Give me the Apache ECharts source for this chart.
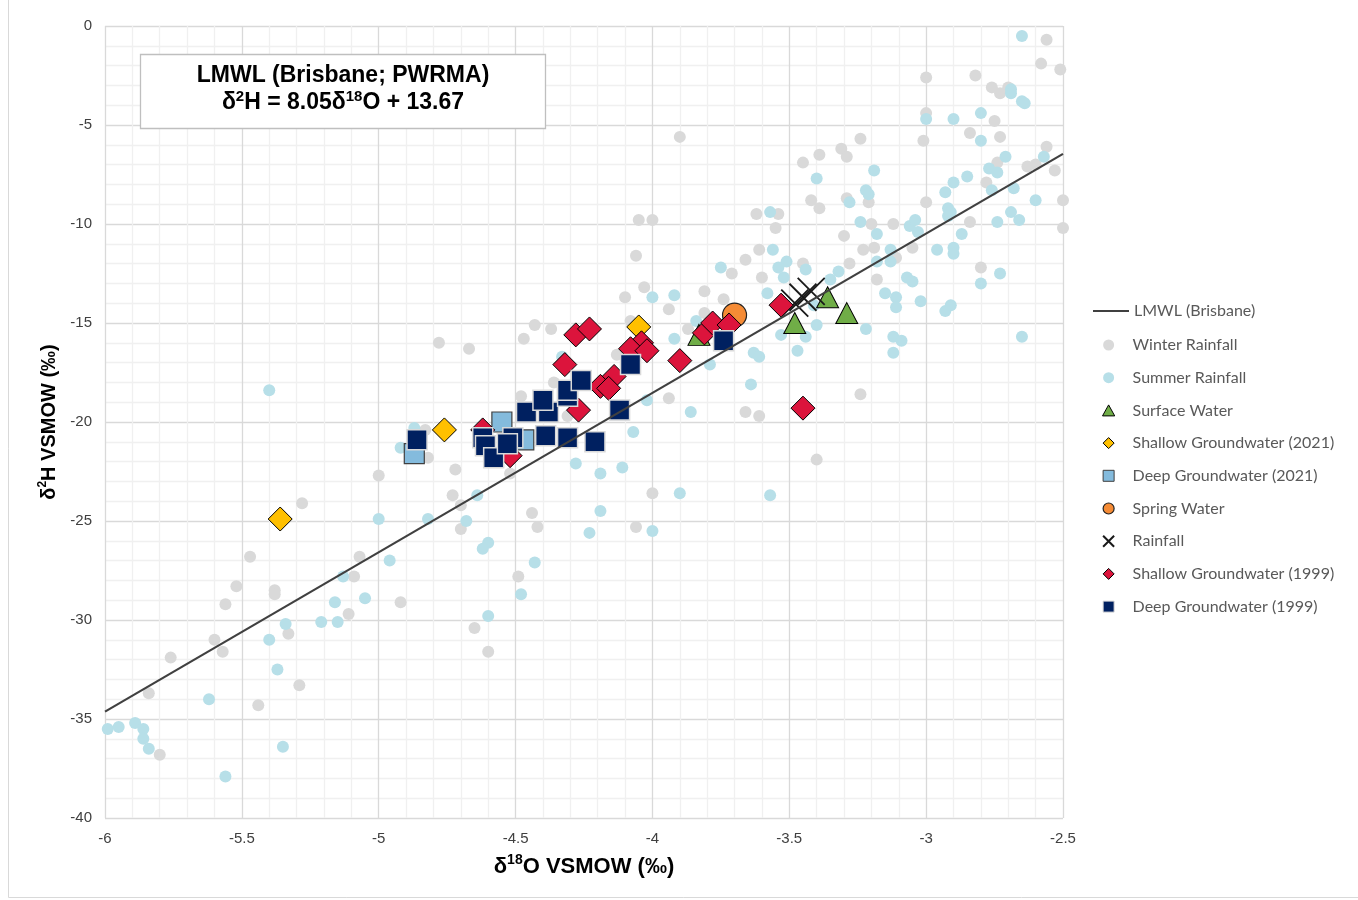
<!DOCTYPE html>
<html><head><meta charset="utf-8">
<script src="https://cdn.jsdelivr.net/npm/echarts@6/dist/echarts.min.js"></script>
<style>html,body{margin:0;padding:0;background:#fff}#c{width:1358px;height:900px}</style>
</head><body><div id="c"></div>
<script>
// ---------- DATA (δ18O, δ2H) ----------
const lmwl = [[-6, -34.63], [-2.5, -6.46]];

const winterRainfall = [
 [-2.56,-0.7],[-2.58,-1.9],[-2.51,-2.2],[-3.00,-2.6],[-2.82,-2.5],[-2.76,-3.1],[-2.73,-3.4],[-2.70,-3.1],[-3.00,-4.4],[-2.75,-4.8],
 [-2.84,-5.4],[-2.73,-5.6],[-3.01,-5.8],[-3.24,-5.7],[-2.56,-6.1],[-2.74,-6.9],[-2.63,-7.1],[-2.60,-7.0],[-2.53,-7.3],[-3.21,-8.9],
 [-3.00,-8.9],[-2.78,-7.9],[-2.50,-8.8],[-2.50,-10.2],[-3.20,-10.0],[-3.12,-10.0],[-2.84,-9.9],[-3.23,-11.3],[-3.19,-11.2],[-3.05,-11.2],
 [-3.11,-11.7],[-3.18,-12.8],[-2.80,-12.2],[-3.90,-5.6],[-3.31,-6.2],[-3.29,-6.6],[-3.39,-6.5],[-3.45,-6.9],[-3.42,-8.8],[-3.39,-9.2],
 [-3.29,-8.7],[-4.05,-9.8],[-4.00,-9.8],[-3.62,-9.5],[-3.54,-9.5],[-3.55,-10.2],[-3.30,-10.6],[-4.06,-11.6],[-3.61,-11.3],[-3.66,-11.8],
 [-3.45,-12.0],[-3.28,-12.0],[-4.03,-13.2],[-4.10,-13.7],[-3.94,-14.3],[-3.81,-13.4],[-3.74,-13.8],[-3.81,-14.5],[-3.71,-12.5],[-3.60,-12.7],
 [-3.24,-18.6],[-3.66,-19.5],[-3.61,-19.7],[-3.94,-18.8],[-3.40,-21.9],[-4.00,-23.6],[-4.06,-25.3],[-4.78,-16.0],[-4.67,-16.3],[-4.43,-15.1],
 [-4.37,-15.3],[-4.47,-15.8],[-4.36,-18.0],[-4.48,-18.7],[-4.83,-20.4],[-4.82,-21.8],[-4.72,-22.4],[-5.00,-22.7],[-4.52,-22.6],[-4.73,-23.7],
 [-4.70,-24.2],[-4.70,-25.4],[-4.44,-24.6],[-4.42,-25.3],[-4.49,-27.8],[-4.65,-30.4],[-4.60,-31.6],[-5.28,-24.1],[-5.47,-26.8],[-5.52,-28.3],
 [-5.56,-29.2],[-5.38,-28.5],[-5.38,-28.7],[-5.07,-26.8],[-5.09,-27.8],[-5.11,-29.7],[-4.92,-29.1],[-5.33,-30.7],[-5.60,-31.0],[-5.57,-31.6],
 [-5.76,-31.9],[-5.29,-33.3],[-5.84,-33.7],[-5.44,-34.3],[-5.80,-36.8],[-3.87,-15.3],[-4.08,-14.9],[-4.13,-16.6],[-4.31,-19.7]
];

const summerRainfall = [
 [-2.65,-0.5],[-2.69,-3.2],[-2.69,-3.4],[-2.65,-3.8],[-2.64,-3.9],[-3.00,-4.7],[-2.90,-4.7],[-2.80,-4.4],[-2.80,-5.8],[-2.71,-6.6],
 [-2.57,-6.6],[-2.77,-7.2],[-2.74,-7.4],[-3.19,-7.3],[-2.85,-7.6],[-3.22,-8.3],[-3.21,-8.5],[-2.90,-7.9],[-2.93,-8.4],[-2.76,-8.3],
 [-2.68,-8.2],[-2.60,-8.8],[-2.92,-9.2],[-2.91,-9.4],[-2.92,-9.6],[-2.69,-9.4],[-2.66,-9.8],[-2.74,-9.9],[-3.24,-9.9],[-3.06,-10.1],
 [-3.04,-9.8],[-3.03,-10.4],[-3.18,-10.5],[-2.87,-10.5],[-3.13,-11.3],[-2.96,-11.3],[-2.90,-11.2],[-2.90,-11.5],[-3.18,-11.9],[-3.13,-11.9],
 [-3.07,-12.7],[-3.05,-12.9],[-2.73,-12.5],[-2.80,-13.0],[-3.15,-13.5],[-3.11,-13.7],[-3.11,-14.2],[-3.02,-13.9],[-2.93,-14.4],[-2.91,-14.1],
 [-3.22,-15.3],[-3.12,-15.7],[-3.09,-15.9],[-2.65,-15.7],[-3.12,-16.5],[-3.40,-7.7],[-3.28,-8.9],[-3.57,-9.4],[-3.56,-11.3],[-3.51,-11.9],
 [-3.54,-12.2],[-3.44,-12.3],[-3.52,-12.7],[-3.35,-12.8],[-3.32,-12.4],[-3.75,-12.2],[-4.00,-13.7],[-3.92,-13.6],[-3.58,-13.5],[-3.40,-15.1],
 [-3.44,-15.7],[-3.53,-15.6],[-3.47,-16.4],[-3.92,-15.8],[-3.84,-14.9],[-3.79,-17.1],[-3.63,-16.5],[-3.61,-16.7],[-3.64,-18.1],[-4.02,-18.9],
 [-3.86,-19.5],[-3.41,-14.1],[-4.07,-20.5],[-4.11,-22.3],[-4.19,-22.6],[-3.90,-23.6],[-3.57,-23.7],[-4.19,-24.5],[-4.23,-25.6],[-4.00,-25.5],
 [-4.87,-20.3],[-4.92,-21.3],[-4.28,-22.1],[-4.64,-23.7],[-4.68,-25.0],[-4.82,-24.9],[-5.00,-24.9],[-4.60,-26.1],[-4.62,-26.4],[-4.43,-27.1],
 [-4.48,-28.7],[-4.60,-29.8],[-4.96,-27.0],[-5.13,-27.8],[-5.05,-28.9],[-5.16,-29.1],[-5.21,-30.1],[-5.15,-30.1],[-5.34,-30.2],[-5.40,-31.0],
 [-5.37,-32.5],[-5.62,-34.0],[-5.99,-35.5],[-5.95,-35.4],[-5.89,-35.2],[-5.86,-35.5],[-5.86,-36.0],[-5.84,-36.5],[-5.56,-37.9],[-5.35,-36.4],
 [-5.40,-18.4],[-4.33,-16.7]
];

const surfaceWater = [[-3.36,-13.7],[-3.29,-14.5],[-3.48,-15.0],[-3.83,-15.6]];
const shallowGW2021 = [[-4.05,-15.2],[-4.76,-20.4],[-5.36,-24.9]];
const deepGW2021 = [[-4.87,-21.6],[-4.55,-20.0],[-4.47,-20.9]];
const springWater = [[-3.70,-14.6]];
const rainfall = [[-3.48,-14.0],[-3.45,-13.7],[-3.42,-13.4]];
const shallowGW1999 = [
 [-4.28,-15.6],[-4.23,-15.3],[-4.32,-17.1],[-4.04,-16.0],[-4.08,-16.3],[-4.02,-16.4],[-3.90,-16.9],[-4.14,-17.7],[-4.19,-18.2],[-4.16,-18.3],
 [-4.27,-19.4],[-3.81,-15.5],[-3.78,-15.0],[-3.72,-15.1],[-3.53,-14.1],[-3.45,-19.3],[-4.62,-20.4],[-4.52,-21.7]
];
const deepGW1999 = [
 [-4.86,-20.9],[-4.62,-20.8],[-4.61,-21.2],[-4.58,-21.8],[-4.51,-20.8],[-4.53,-21.1],[-4.39,-20.7],[-4.31,-20.8],[-4.46,-19.5],[-4.38,-19.5],
 [-4.40,-18.9],[-4.31,-18.7],[-4.31,-18.4],[-4.26,-17.9],[-4.08,-17.1],[-4.12,-19.4],[-3.74,-15.9],[-4.21,-21.0]
];

const seriesNames = ['LMWL (Brisbane)','Winter Rainfall','Summer Rainfall','Surface Water','Shallow Groundwater (2021)',
 'Deep Groundwater (2021)','Spring Water','Rainfall','Shallow Groundwater (1999)','Deep Groundwater (1999)'];

// ---------- STYLE ----------
const AX = 'Liberation Sans, Arial, sans-serif';
const LG = 'Lato, "Open Sans", sans-serif';
const P_TRI = 'path://M5,0L10,9L0,9Z';
const P_DIA = 'path://M5,0L10,5L5,10L0,5Z';
const P_SQ = 'path://M0,0L10,0L10,10L0,10Z';
const P_X = 'path://M0,0L10,10M10,0L0,10';
function nameRich(fs) {
  return {
    b:{fontSize:fs, fontWeight:'bold', fontFamily:AX, color:'#000', lineHeight:fs+3, verticalAlign:'bottom'},
    s:{fontSize:Math.round(fs*0.62), fontWeight:'bold', fontFamily:AX, color:'#000', lineHeight:fs+3, verticalAlign:'top'}
  };
}

const chart = echarts.init(document.getElementById('c'), null, {renderer:'canvas'});
const option = {
  backgroundColor: '#fff',
  animation: false,
  grid: {left:105, right:295, top:26, bottom:82, containLabel:false},
  xAxis: {
    type:'value', min:-6, max:-2.5, interval:0.5,
    axisLine:{show:false}, axisTick:{show:false},
    axisLabel:{color:'#404040', fontSize:15, fontFamily:AX, margin:13},
    splitLine:{show:true, lineStyle:{color:'#d9d9d9', width:1.3}},
    minorTick:{show:false, splitNumber:5},
    minorSplitLine:{show:true, lineStyle:{color:'#f0f0f0', width:1.3}},
    name:'{b|δ}{s|18}{b|O VSMOW (‰)}', nameLocation:'middle', nameGap:35,
    nameTextStyle:{rich:nameRich(22)}
  },
  yAxis: {
    type:'value', min:-40, max:0, interval:5,
    axisLine:{show:false}, axisTick:{show:false},
    axisLabel:{color:'#404040', fontSize:15, fontFamily:AX, margin:13},
    splitLine:{show:true, lineStyle:{color:'#d9d9d9', width:1.3}},
    minorTick:{show:false, splitNumber:5},
    minorSplitLine:{show:true, lineStyle:{color:'#f0f0f0', width:1.3}},
    name:'{b|δ}{s|2}{b|H VSMOW (‰)}', nameLocation:'middle', nameGap:45,
    nameTextStyle:{rich:nameRich(20)}
  },
  legend: [
    {
      orient:'vertical', left:1092, top:303, padding:0, itemWidth:36, itemHeight:11,
      textStyle:{color:'#595959', fontSize:16, fontFamily:LG, lineHeight:16},
      data:[{name:seriesNames[0], itemStyle:{color:'rgba(0,0,0,0)', borderWidth:0, opacity:0}}], selectedMode:false
    },
    {
      orient:'vertical', left:1102, top:337, padding:0, itemWidth:38, itemHeight:11, itemGap:16.7,
      textStyle:{color:'#595959', fontSize:16, fontFamily:LG, lineHeight:16},
      selectedMode:false,
      data:[
        {name:seriesNames[1], icon:'circle'},
        {name:seriesNames[2], icon:'circle'},
        {name:seriesNames[3], icon:P_TRI, itemStyle:{borderWidth:1}},
        {name:seriesNames[4], icon:P_DIA, itemStyle:{borderWidth:1}},
        {name:seriesNames[5], icon:P_SQ, itemStyle:{borderWidth:1}},
        {name:seriesNames[6], icon:'circle', itemStyle:{borderWidth:1.2}},
        {name:seriesNames[7], icon:P_X, itemStyle:{borderWidth:2}},
        {name:seriesNames[8], icon:P_DIA, itemStyle:{borderWidth:1}},
        {name:seriesNames[9], icon:P_SQ, itemStyle:{borderWidth:1}}
      ]
    }
  ],
  series: [
    {name:seriesNames[0], type:'line', data:lmwl, symbol:'none', silent:true,
     lineStyle:{color:'#404040', width:2.2}, itemStyle:{color:'#404040'}},
    {name:seriesNames[1], type:'scatter', data:winterRainfall, symbol:'circle', symbolSize:12,
     itemStyle:{color:'#d9d9d9', opacity:1}},
    {name:seriesNames[2], type:'scatter', data:summerRainfall, symbol:'circle', symbolSize:12,
     itemStyle:{color:'#b7dfe8', opacity:1}},
    {name:seriesNames[3], type:'scatter', data:surfaceWater, symbol:'triangle', symbolSize:[22,21],
     itemStyle:{color:'#70ad47', borderColor:'#000', borderWidth:1, opacity:1}},
    {name:seriesNames[4], type:'scatter', data:shallowGW2021, symbol:'diamond', symbolSize:24,
     itemStyle:{color:'#ffc000', borderColor:'#000', borderWidth:1, opacity:1}},
    {name:seriesNames[5], type:'scatter', data:deepGW2021, symbol:'rect', symbolSize:20,
     itemStyle:{color:'#84bbdd', borderColor:'#404040', borderWidth:1.2, opacity:1}},
    {name:seriesNames[6], type:'scatter', data:springWater, symbol:'circle', symbolSize:24,
     itemStyle:{color:'#f58b35', borderColor:'#222', borderWidth:1.2, opacity:1}},
    {name:seriesNames[7], type:'scatter', data:rainfall, symbol:P_X, symbolSize:27,
     itemStyle:{color:'rgba(0,0,0,0)', borderColor:'#1a1a1a', borderWidth:1.8, opacity:1}},
    {name:seriesNames[8], type:'scatter', data:shallowGW1999, symbol:'diamond', symbolSize:24,
     itemStyle:{color:'#dc143c', borderColor:'#000', borderWidth:1, opacity:1}},
    {name:seriesNames[9], type:'scatter', data:deepGW1999, symbol:'rect', symbolSize:20,
     itemStyle:{color:'#002060', borderColor:'#d9d9d9', borderWidth:1.5, opacity:1}}
  ],
  graphic: [
    {type:'rect', shape:{x:8.5, y:-10, width:1400, height:907.5}, silent:true,
     style:{fill:'none', stroke:'#d9d9d9', lineWidth:1}},
    {type:'rect', shape:{x:140.5, y:54.5, width:405, height:74}, z:100,
     style:{fill:'#fff', stroke:'#bfbfbf', lineWidth:1.3}},
    {type:'text', x:343, y:87, z:101,
     style:{
       text:'{b|LMWL (Brisbane; PWRMA)}\n{b|δ}{s|2}{b|H = 8.05δ}{s|18}{b|O + 13.67}',
       align:'center', verticalAlign:'middle',
       rich:{
         b:{fontSize:23, fontWeight:'bold', fontFamily:AX, fill:'#000', lineHeight:27, verticalAlign:'bottom'},
         s:{fontSize:15, fontWeight:'bold', fontFamily:AX, fill:'#000', lineHeight:27, verticalAlign:'top', padding:[2,0,0,0]}
       }
     }}
  ]
};
chart.setOption(option);
</script>
</body></html>
